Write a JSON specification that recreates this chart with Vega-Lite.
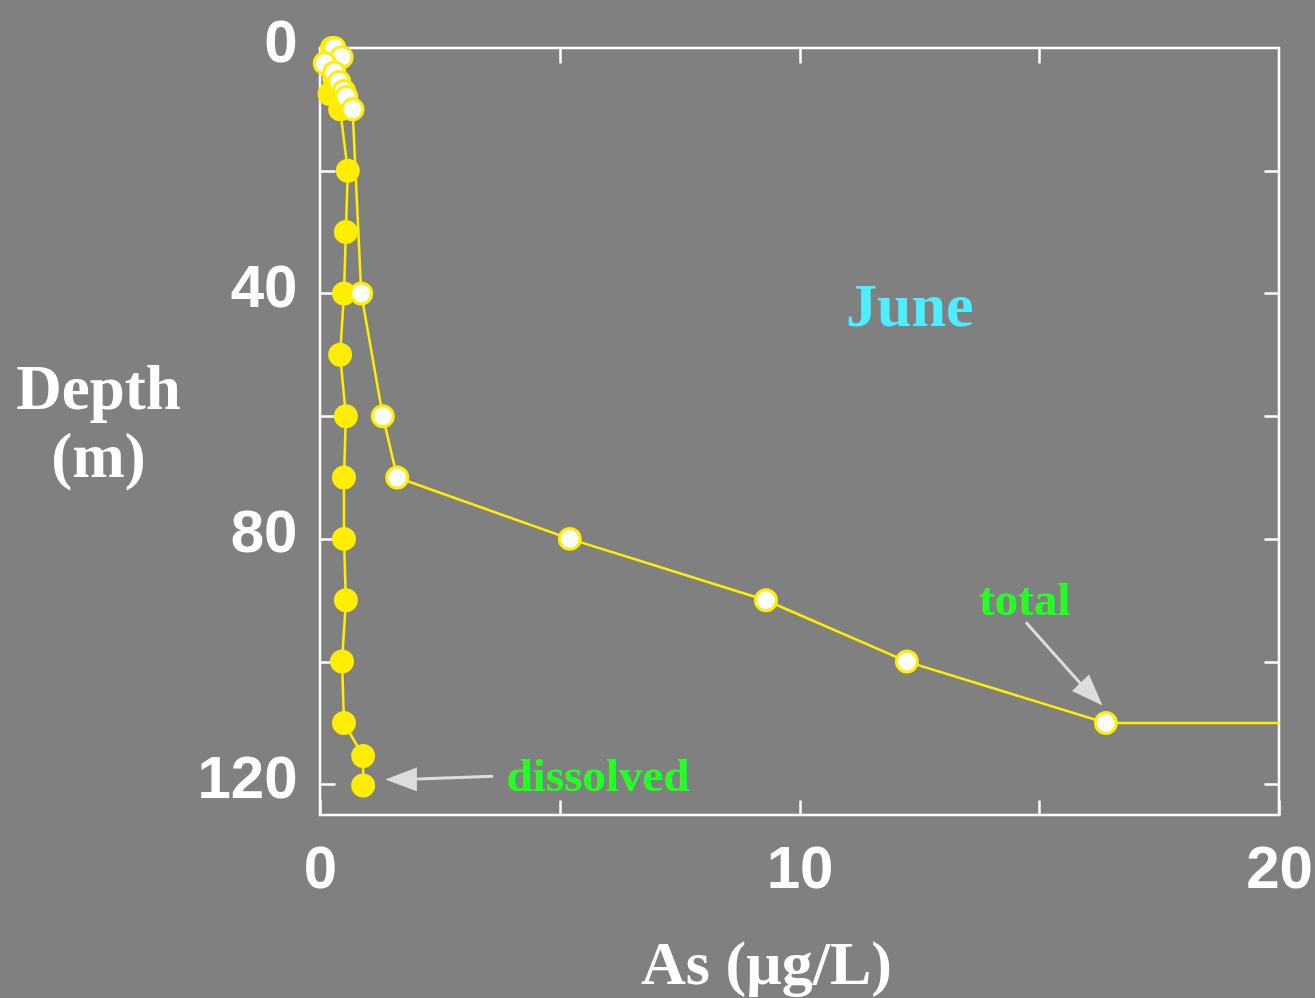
{
  "$schema": "https://vega.github.io/schema/vega-lite/v6.json",
  "autosize": {"type": "none"},
  "padding": {"left": 320, "top": 48, "right": 36, "bottom": 183},
  "width": 959,
  "height": 767,
  "background": "#808080",
  "config": {
    "view": {"stroke": "white", "strokeWidth": 2.5},
    "axis": {"grid": false}
  },
  "datasets": {
    "profile": [
      {"series": "dissolved", "depth": 0, "as": 0.25},
      {"series": "dissolved", "depth": 1, "as": 0.3},
      {"series": "dissolved", "depth": 3, "as": 0.2},
      {"series": "dissolved", "depth": 5, "as": 0.3},
      {"series": "dissolved", "depth": 7.5, "as": 0.2},
      {"series": "dissolved", "depth": 10, "as": 0.42},
      {"series": "dissolved", "depth": 20, "as": 0.58},
      {"series": "dissolved", "depth": 30, "as": 0.54},
      {"series": "dissolved", "depth": 40, "as": 0.5},
      {"series": "dissolved", "depth": 50, "as": 0.42},
      {"series": "dissolved", "depth": 60, "as": 0.54},
      {"series": "dissolved", "depth": 70, "as": 0.5},
      {"series": "dissolved", "depth": 80, "as": 0.5},
      {"series": "dissolved", "depth": 90, "as": 0.54},
      {"series": "dissolved", "depth": 100, "as": 0.46},
      {"series": "dissolved", "depth": 110, "as": 0.5},
      {"series": "dissolved", "depth": 115.4, "as": 0.9},
      {"series": "dissolved", "depth": 120.2, "as": 0.9},
      {"series": "total", "depth": 0, "as": 0.3},
      {"series": "total", "depth": 1.5, "as": 0.45},
      {"series": "total", "depth": 2.5, "as": 0.1},
      {"series": "total", "depth": 4, "as": 0.3},
      {"series": "total", "depth": 5.5, "as": 0.4},
      {"series": "total", "depth": 7, "as": 0.5},
      {"series": "total", "depth": 8, "as": 0.55},
      {"series": "total", "depth": 10, "as": 0.68},
      {"series": "total", "depth": 40, "as": 0.86},
      {"series": "total", "depth": 60, "as": 1.31},
      {"series": "total", "depth": 70, "as": 1.61},
      {"series": "total", "depth": 80, "as": 5.21},
      {"series": "total", "depth": 90, "as": 9.3},
      {"series": "total", "depth": 100, "as": 12.24},
      {"series": "total", "depth": 110, "as": 16.39},
      {"series": "total", "depth": 110, "as": 25}
    ],
    "arrows": [
      {"arrow": "total", "x": 14.72, "depth": 93.6},
      {"arrow": "total", "x": 16.0, "depth": 104.8},
      {"arrow": "dissolved", "x": 3.61, "depth": 118.7},
      {"arrow": "dissolved", "x": 1.75, "depth": 119.2}
    ],
    "heads": [
      {"arrow": "total", "x": 16.09, "depth": 105.3, "angle": 46},
      {"arrow": "dissolved", "x": 1.69, "depth": 119.2, "angle": 180}
    ],
    "labels": [
      {"label": "June", "x": 12.3, "depth": 45.3, "kind": "month"},
      {"label": "total", "x": 14.7, "depth": 92.4, "kind": "series"},
      {"label": "dissolved", "x": 5.8, "depth": 121.1, "kind": "series"}
    ]
  },
  "layer": [
    {
      "data": {"name": "profile"},
      "mark": {"type": "line", "color": "#FFEE00", "strokeWidth": 2.5, "clip": true},
      "encoding": {
        "x": {
          "field": "as", "type": "quantitative",
          "scale": {"domain": [0, 20], "nice": false, "zero": false},
          "axis": {
            "orient": "bottom", "values": [0, 5, 10, 15, 20],
            "labelExpr": "datum.value % 10 === 0 ? datum.label : ''",
            "tickSize": -15, "tickColor": "white", "tickWidth": 2.5,
            "domain": false, "labelPadding": 40,
            "labelFont": "Liberation Sans", "labelFontWeight": "bold", "labelFontSize": 60,
            "labelColor": "white", "labelFlush": false,
            "title": "As (µg/L)", "titleFont": "Liberation Serif", "titleFontWeight": "bold",
            "titleFontSize": 62, "titleColor": "white", "titleBaseline": "alphabetic",
            "titleAnchor": "start", "titleAlign": "center", "titleX": 446, "titleY": 168
          }
        },
        "y": {
          "field": "depth", "type": "quantitative",
          "scale": {"domain": [125, 0], "nice": false, "zero": false, "reverse": false},
          "axis": {
            "orient": "left", "values": [0, 20, 40, 60, 80, 100, 120],
            "labelExpr": "datum.value % 40 === 0 ? datum.label : ''",
            "tickSize": -15, "tickColor": "white", "tickWidth": 2.5,
            "domain": false, "labelPadding": 38, "labelOffset": -5,
            "labelFont": "Liberation Sans", "labelFontWeight": "bold", "labelFontSize": 60,
            "labelColor": "white", "labelFlush": false,
            "title": ["Depth", "\u00a0\u00a0(m)"], "titleFont": "Liberation Serif", "titleFontWeight": "bold",
            "titleFontSize": 63, "titleColor": "white", "titleAngle": 0, "titleBaseline": "alphabetic",
            "titleAlign": "center", "titleAnchor": "start", "titleX": -222, "titleY": 360,
            "titleLineHeight": 68
          }
        },
        "detail": {"field": "series"},
        "order": {"field": "depth", "type": "quantitative"}
      }
    },
    {
      "data": {"name": "profile"},
      "transform": [{"filter": "datum.as <= 20"}],
      "mark": {"type": "point", "shape": "circle", "filled": true, "size": 440, "stroke": "#FFEE00", "strokeWidth": 3, "opacity": 1},
      "encoding": {
        "x": {
          "field": "as", "type": "quantitative",
          "axis": {"orient": "top", "values": [5, 10, 15], "labels": false, "domain": false,
                   "tickSize": -15, "tickColor": "white", "tickWidth": 2.5, "title": null}
        },
        "y": {
          "field": "depth", "type": "quantitative",
          "axis": {"orient": "right", "values": [20, 40, 60, 80, 100, 120], "labels": false, "domain": false,
                   "tickSize": -15, "tickColor": "white", "tickWidth": 2.5, "title": null}
        },
        "fill": {
          "field": "series", "type": "nominal",
          "scale": {"domain": ["dissolved", "total"], "range": ["#FFEE00", "#FFFFFF"]},
          "legend": null
        }
      }
    },
    {
      "data": {"name": "arrows"},
      "mark": {"type": "line", "color": "#DDDDDD", "strokeWidth": 3},
      "encoding": {
        "x": {"field": "x", "type": "quantitative", "axis": null},
        "y": {"field": "depth", "type": "quantitative", "axis": null},
        "detail": {"field": "arrow"}
      }
    },
    {
      "data": {"name": "heads"},
      "mark": {"type": "point", "shape": "M1,0L-1,-0.75L-1,0.75Z", "filled": true, "size": 1000, "color": "#DDDDDD", "opacity": 1, "strokeWidth": 0},
      "encoding": {
        "x": {"field": "x", "type": "quantitative", "axis": null},
        "y": {"field": "depth", "type": "quantitative", "axis": null},
        "angle": {"field": "angle", "type": "quantitative", "scale": null}
      }
    },
    {
      "data": {"name": "labels"},
      "transform": [{"filter": "datum.kind === 'month'"}],
      "mark": {"type": "text", "font": "Liberation Serif", "fontWeight": "bold", "fontSize": 62, "color": "#4DEEFF", "align": "center", "baseline": "alphabetic"},
      "encoding": {
        "x": {"field": "x", "type": "quantitative", "axis": null},
        "y": {"field": "depth", "type": "quantitative", "axis": null},
        "text": {"field": "label"}
      }
    },
    {
      "data": {"name": "labels"},
      "transform": [{"filter": "datum.kind === 'series'"}],
      "mark": {"type": "text", "font": "Liberation Serif", "fontWeight": "bold", "fontSize": 47, "color": "#22FF22", "align": "center", "baseline": "alphabetic"},
      "encoding": {
        "x": {"field": "x", "type": "quantitative", "axis": null},
        "y": {"field": "depth", "type": "quantitative", "axis": null},
        "text": {"field": "label"}
      }
    }
  ],
  "resolve": {"axis": {"x": "independent", "y": "independent"}}
}
